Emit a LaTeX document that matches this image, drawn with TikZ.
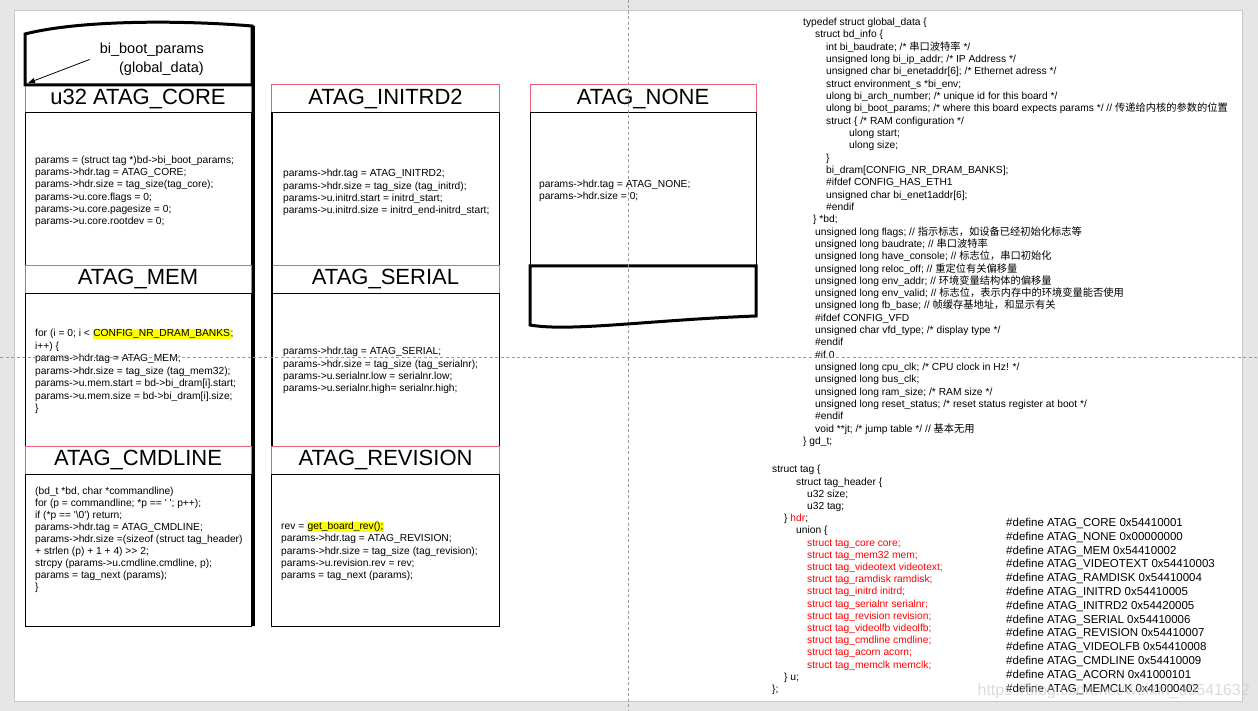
\documentclass[tikz,border=0pt]{standalone}
\usepackage{fontspec}
\usepackage{xcolor}
\usepackage{tikz}
\usetikzlibrary{positioning,arrows.meta,calc}
\setmainfont{Liberation Sans}
\newfontfamily\codefont{Liberation Sans}
\newfontfamily\cjk{Noto Sans CJK SC}
\newcommand\zhtxt[1]{{\cjk #1}}
\definecolor{pagegray}{HTML}{E6E6E6}
\definecolor{pageedge}{HTML}{C8C8C8}
\definecolor{hdrred}{HTML}{E8607A}
\definecolor{hlyellow}{HTML}{FFFF00}
\definecolor{codered}{HTML}{FF0000}
\definecolor{guide}{HTML}{9A9A9A}
\newcommand\yhl[1]{{\setlength\fboxsep{0.6pt}\colorbox{hlyellow}{#1}}}

\begin{document}
\begin{tikzpicture}[
    x=1pt, y=-1pt,
    hdr/.style={rectangle, draw=hdrred, line width=1pt, fill=white, minimum width=226, minimum height=28, inner sep=0pt, outer sep=0pt, font=\codefont\fontsize{22}{26}\selectfont},
    body/.style={rectangle, draw, line width=1pt, fill=white, minimum width=226, minimum height=152.5, inner sep=0pt, outer sep=0pt},
    code/.style={inner sep=0pt, anchor=base west, align=left, font=\codefont\fontsize{10.25}{12.2}\selectfont},
    docline/.style={line width=3pt, line join=miter},
    arrow/.style={-{Triangle[length=7pt,width=5pt]}, line width=0.8pt},
]
    \useasboundingbox (0,0) rectangle (1258,711);
    % Page
    \fill[pagegray] (0,0) rectangle (1258,711);
    \filldraw[fill=white, draw=pageedge, line width=1pt] (14,11) rectangle (1242,701);

    % Left column
    \node[hdr] (core) at (138,99) {u32 ATAG\_CORE};
    \node[body, below=0pt of core] (corebody) {};
    \node[hdr, below=0pt of corebody] (mem) {ATAG\_MEM};
    \node[body, below=0pt of mem] (membody) {};
    \node[hdr, below=0pt of membody] (cmdline) {ATAG\_CMDLINE};
    \node[body, below=0pt of cmdline] (cmdlinebody) {};
    \draw[line width=2.5pt] (253.5,26) -- (253.5,626);

    % Middle column
    \node[hdr, minimum width=227.5] (initrd) at (385.5,99) {ATAG\_INITRD2};
    \node[body, minimum width=227.5, below=0pt of initrd] (initrdbody) {};
    \node[hdr, minimum width=227.5, below=0pt of initrdbody] (serial) {ATAG\_SERIAL};
    \node[body, minimum width=227.5, below=0pt of serial] (serialbody) {};
    \node[hdr, minimum width=227.5, below=0pt of serialbody] (revision) {ATAG\_REVISION};
    \node[body, minimum width=227.5, below=0pt of revision] (revisionbody) {};
    \draw[line width=2pt] (initrdbody.north west) -- (serialbody.south west);

    % Right column
    \node[hdr] (none) at (643,99) {ATAG\_NONE};
    \node[body, below=0pt of none] (nonebody) {};

    % Document shapes
    \draw[docline] (25,85) -- (25,34) .. controls (80,20) and (180,20) .. (252,26) -- (252,85) -- cycle;
    \draw[docline] (530,266) -- (756,266) -- (756,316) .. controls (650,320) and (570,332) .. (530,325) -- cycle;

    % Note
    \node[align=right, anchor=east, inner sep=2pt, font=\codefont\fontsize{14.5}{19}\selectfont] (note) at (206,59.5) {bi\_boot\_params\\(global\_data)};
    \draw[arrow] ([xshift=-8pt]note.west) -- ([shift={(3,-2)}]core.north west);

    % Code (anchored at the baseline of the last line)
    \node[code] (corecode) at (35,224.5) {params = (struct tag *)bd->bi\_boot\_params;\\
params->hdr.tag = ATAG\_CORE;\\
params->hdr.size = tag\_size(tag\_core);\\
params->u.core.flags = 0;\\
params->u.core.pagesize = 0;\\
params->u.core.rootdev = 0;};
    \node[code, font=\codefont\fontsize{10.25}{12.45}\selectfont] (memcode) at (35,411.5) {for (i = 0; i < \yhl{CONFIG\_NR\_DRAM\_BANKS};\\
i++) \{\\
params->hdr.tag = ATAG\_MEM;\\
params->hdr.size = tag\_size (tag\_mem32);\\
params->u.mem.start = bd->bi\_dram[i].start;\\
params->u.mem.size = bd->bi\_dram[i].size;\\
\}};
    \node[code, font=\codefont\fontsize{10.25}{12.05}\selectfont] (cmdlinecode) at (35,590.5) {(bd\_t *bd, char *commandline)\\
for (p = commandline; *p == ' '; p++);\\
if (*p == '\textbackslash 0') return;\\
params->hdr.tag = ATAG\_CMDLINE;\\
params->hdr.size =(sizeof (struct tag\_header)\\
+ strlen (p) + 1 + 4) >> 2;\\
strcpy (params->u.cmdline.cmdline, p);\\
params = tag\_next (params);\\
\}};
    \node[code] (initrdcode) at (283,213.5) {params->hdr.tag = ATAG\_INITRD2;\\
params->hdr.size = tag\_size (tag\_initrd);\\
params->u.initrd.start = initrd\_start;\\
params->u.initrd.size = initrd\_end-initrd\_start;};
    \node[code] (serialcode) at (283,391.5) {params->hdr.tag = ATAG\_SERIAL;\\
params->hdr.size = tag\_size (tag\_serialnr);\\
params->u.serialnr.low = serialnr.low;\\
params->u.serialnr.high= serialnr.high;};
    \node[code] (revisioncode) at (281,578.5) {rev = \yhl{get\_board\_rev();}\\
params->hdr.tag = ATAG\_REVISION;\\
params->hdr.size = tag\_size (tag\_revision);\\
params->u.revision.rev = rev;\\
params = tag\_next (params);};
    \node[code] (nonecode) at (539,199.5) {params->hdr.tag = ATAG\_NONE;\\
params->hdr.size = 0;};

    % global_data
    \node[code, font=\codefont\fontsize{10.25}{12.32}\selectfont] (gdstruct) at (803,444.5) {typedef struct global\_data \{\\
\hspace*{12pt}struct bd\_info \{\\
\hspace*{23pt}int bi\_baudrate; /* \zhtxt{串口波特率} */\\
\hspace*{23pt}unsigned long bi\_ip\_addr; /* IP Address */\\
\hspace*{23pt}unsigned char bi\_enetaddr[6]; /* Ethernet adress */\\
\hspace*{23pt}struct environment\_s *bi\_env;\\
\hspace*{23pt}ulong bi\_arch\_number; /* unique id for this board */\\
\hspace*{23pt}ulong bi\_boot\_params; /* where this board expects params */ // \zhtxt{传递给内核的参数的位置}\\
\hspace*{23pt}struct \{ /* RAM configuration */\\
\hspace*{46pt}ulong start;\\
\hspace*{46pt}ulong size;\\
\hspace*{23pt}\}\\
\hspace*{23pt}bi\_dram[CONFIG\_NR\_DRAM\_BANKS];\\
\hspace*{23pt}\#ifdef CONFIG\_HAS\_ETH1\\
\hspace*{23pt}unsigned char bi\_enet1addr[6];\\
\hspace*{23pt}\#endif\\
\hspace*{10pt}\} *bd;\\
\hspace*{12pt}unsigned long flags; // \zhtxt{指示标志，如设备已经初始化标志等}\\
\hspace*{12pt}unsigned long baudrate; // \zhtxt{串口波特率}\\
\hspace*{12pt}unsigned long have\_console; // \zhtxt{标志位，串口初始化}\\
\hspace*{12pt}unsigned long reloc\_off; // \zhtxt{重定位有关偏移量}\\
\hspace*{12pt}unsigned long env\_addr; // \zhtxt{环境变量结构体的偏移量}\\
\hspace*{12pt}unsigned long env\_valid; // \zhtxt{标志位，表示内存中的环境变量能否使用}\\
\hspace*{12pt}unsigned long fb\_base; // \zhtxt{帧缓存基地址，和显示有关}\\
\hspace*{12pt}\#ifdef CONFIG\_VFD\\
\hspace*{12pt}unsigned char vfd\_type; /* display type */\\
\hspace*{12pt}\#endif\\
\hspace*{12pt}\#if 0\\
\hspace*{12pt}unsigned long cpu\_clk; /* CPU clock in Hz! */\\
\hspace*{12pt}unsigned long bus\_clk;\\
\hspace*{12pt}unsigned long ram\_size; /* RAM size */\\
\hspace*{12pt}unsigned long reset\_status; /* reset status register at boot */\\
\hspace*{12pt}\#endif\\
\hspace*{12pt}void **jt; /* jump table */ // \zhtxt{基本无用}\\
\} gd\_t;};

    % struct tag
    \node[code] (tagstruct) at (772,692.5) {struct tag \{\\
\hspace*{24pt}struct tag\_header \{\\
\hspace*{35pt}u32 size;\\
\hspace*{35pt}u32 tag;\\
\hspace*{12pt}\} {\color{codered}hdr};\\
\hspace*{24pt}union \{\\
\hspace*{35pt}{\color{codered}struct tag\_core core;}\\
\hspace*{35pt}{\color{codered}struct tag\_mem32 mem;}\\
\hspace*{35pt}{\color{codered}struct tag\_videotext videotext;}\\
\hspace*{35pt}{\color{codered}struct tag\_ramdisk ramdisk;}\\
\hspace*{35pt}{\color{codered}struct tag\_initrd initrd;}\\
\hspace*{35pt}{\color{codered}struct tag\_serialnr serialnr;}\\
\hspace*{35pt}{\color{codered}struct tag\_revision revision;}\\
\hspace*{35pt}{\color{codered}struct tag\_videolfb videolfb;}\\
\hspace*{35pt}{\color{codered}struct tag\_cmdline cmdline;}\\
\hspace*{35pt}{\color{codered}struct tag\_acorn acorn;}\\
\hspace*{35pt}{\color{codered}struct tag\_memclk memclk;}\\
\hspace*{12pt}\} u;\\
\};};

    % defines
    \node[code, font=\codefont\fontsize{11.5}{13.8}\selectfont] (defines) at (1006,692) {\#define ATAG\_CORE 0x54410001\\
\#define ATAG\_NONE 0x00000000\\
\#define ATAG\_MEM 0x54410002\\
\#define ATAG\_VIDEOTEXT 0x54410003\\
\#define ATAG\_RAMDISK 0x54410004\\
\#define ATAG\_INITRD 0x54410005\\
\#define ATAG\_INITRD2 0x54420005\\
\#define ATAG\_SERIAL 0x54410006\\
\#define ATAG\_REVISION 0x54410007\\
\#define ATAG\_VIDEOLFB 0x54410008\\
\#define ATAG\_CMDLINE 0x54410009\\
\#define ATAG\_ACORN 0x41000101\\
\#define ATAG\_MEMCLK 0x41000402};

    % Watermark
    \node[anchor=east, inner sep=0pt, text=gray!40, text opacity=0.7, font=\codefont\fontsize{16}{18}\selectfont] (watermark) at (1250,691) {https://blog.csdn.net/weixin\_39541632};

    % Guides
    \draw[guide, dash pattern=on 3pt off 2.5pt, line width=0.8pt] (628,0) -- (628,711);
    \draw[guide, dash pattern=on 3pt off 2.5pt, line width=0.8pt] (0,357) -- (1258,357);
\end{tikzpicture}
\end{document}
